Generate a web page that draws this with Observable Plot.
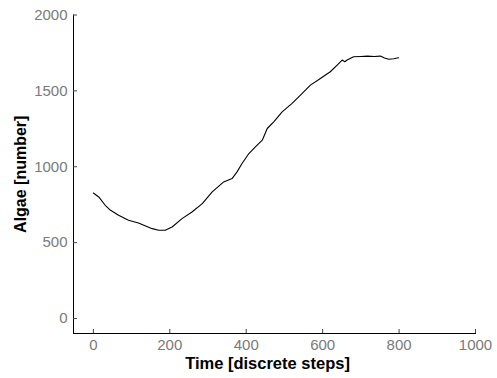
<!DOCTYPE html>
<html>
<head>
<meta charset="utf-8">
<script src="https://cdn.jsdelivr.net/npm/d3@7"></script>
<script src="https://cdn.jsdelivr.net/npm/@observablehq/plot@0.6"></script>
<style>
  html, body { margin: 0; padding: 0; background: #fff; }
</style>
</head>
<body>
<div id="chart"></div>
<script>
const time = [0, 14, 31, 45, 66, 92, 118, 154, 171, 188, 206, 232, 258, 285, 311, 341, 363, 376, 389, 407, 424, 442, 455, 472, 494, 520, 542, 568, 594, 620, 638, 651, 658, 664, 681, 700, 717, 735, 751, 762, 773, 786, 799];
const algae = [827, 801, 746, 713, 680, 647, 629, 592, 581, 581, 603, 658, 702, 757, 834, 900, 922, 966, 1021, 1087, 1131, 1175, 1252, 1296, 1362, 1418, 1472, 1538, 1582, 1626, 1670, 1703, 1692, 1703, 1725, 1727, 1729, 1726, 1729, 1716, 1708, 1712, 1718];
const xTicks = [0, 200, 400, 600, 800, 1000];
const yTicks = [0, 500, 1000, 1500, 2000];

const data = time.map((t, i) => ({t, a: algae[i]}));

const chart = Plot.plot({
  width: 497,
  height: 378,
  marginLeft: 73,
  marginRight: 22,
  marginTop: 14.5,
  marginBottom: 45,
  style: {fontFamily: "'Liberation Sans', Arial, sans-serif", background: "#fff"},
  x: {domain: [-52, 1000]},
  y: {domain: [-99, 2000]},
  marks: [
    Plot.frame({anchor: "left", stroke: "#000"}),
    Plot.frame({anchor: "bottom", stroke: "#000"}),
    Plot.axisY(yTicks, {tickSize: 4, dx: 4, tickPadding: 6, tickFormat: "d", fontSize: 15, fill: "#7a7a7a", stroke: "#444", label: null}),
    Plot.axisX(xTicks, {tickSize: 4, dy: -4, tickPadding: 6, tickFormat: "d", fontSize: 15, fill: "#7a7a7a", stroke: "#444", label: null}),
    Plot.line(data, {x: "t", y: "a", stroke: "#000", strokeWidth: 1.1}),
    Plot.text(["Time [discrete steps]"], {frameAnchor: "bottom", dy: 35, dx: -7, fontSize: 16.5, fontWeight: "bold", fill: "#000"}),
    Plot.text(["Algae [number]"], {frameAnchor: "left", textAnchor: "middle", dx: -53, rotate: -90, fontSize: 16, fontWeight: "bold", fill: "#000"})
  ]
});
document.getElementById("chart").appendChild(chart);
</script>
</body>
</html>
